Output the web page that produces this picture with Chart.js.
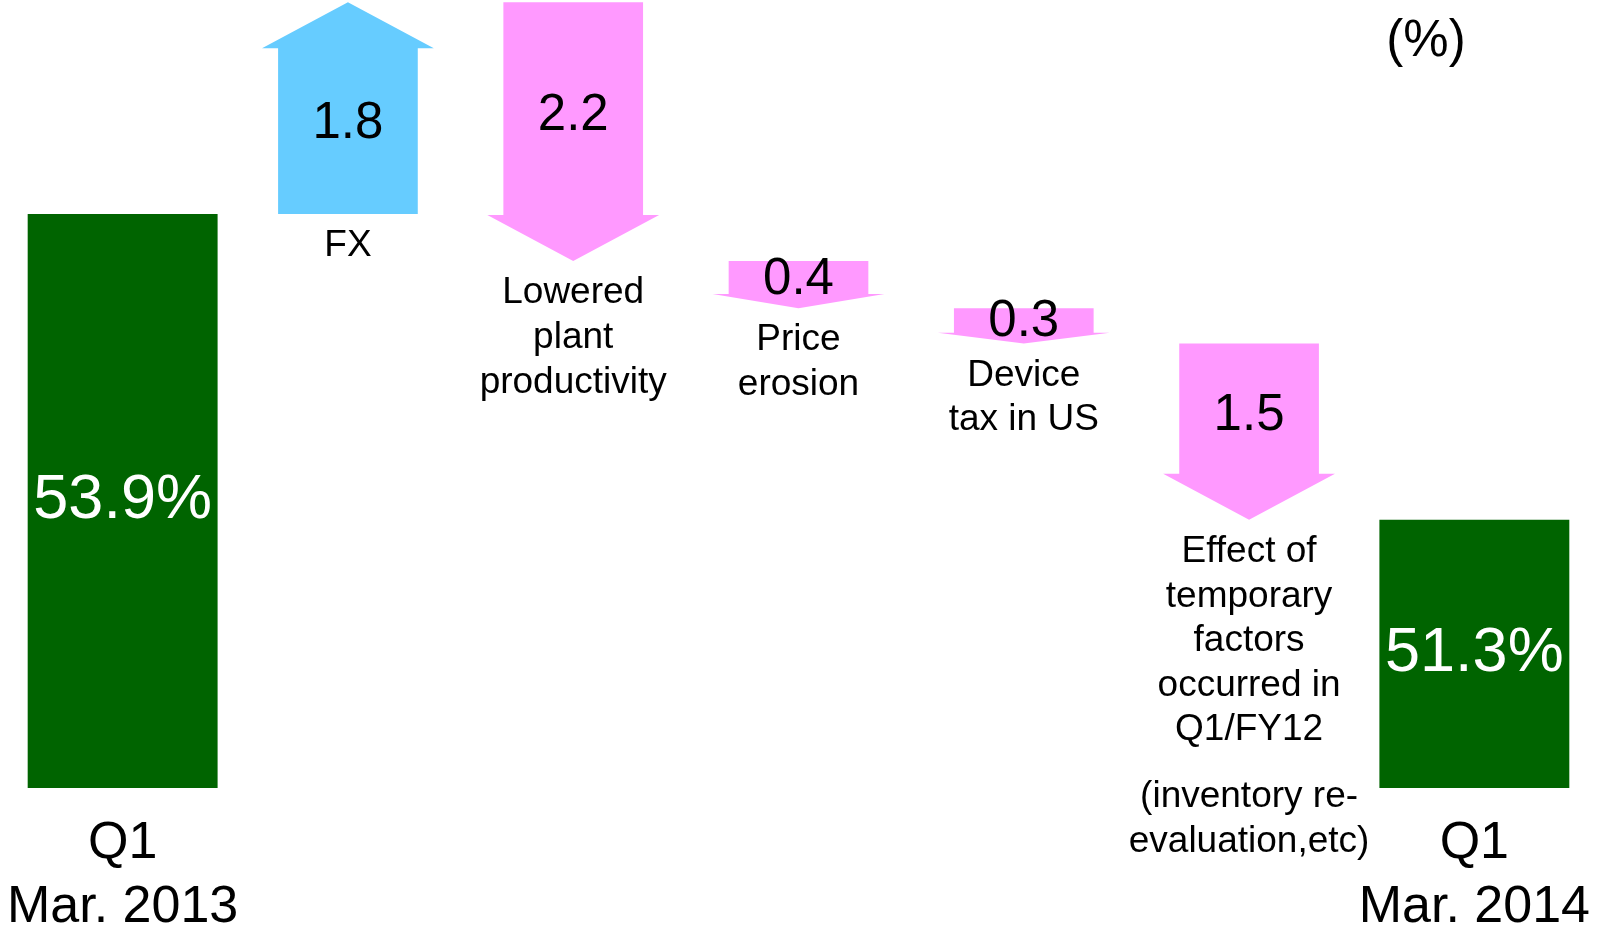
<!DOCTYPE html>
<html>
<head>
<meta charset="utf-8">
<script src="https://cdn.jsdelivr.net/npm/chart.js@4.4.1/dist/chart.umd.min.js"></script>
<style>
  html, body { margin: 0; padding: 0; background: #fff; }
  #wrap { width: 1616px; height: 929px; }
</style>
</head>
<body>
<div id="wrap"><canvas id="c" width="1616" height="929"></canvas></div>
<script>
// data
var categories = ['Q1 Mar. 2013', 'FX', 'Lowered plant productivity', 'Price erosion',
  'Device tax in US', 'Effect of temporary factors', 'Q1 Mar. 2014'];
var tickLabels = [['Q1', 'Mar. 2013'], '', '', '', '', '', ['Q1', 'Mar. 2014']];
var arrowLabels = [
  ['FX'],
  ['Lowered', 'plant', 'productivity'],
  ['Price', 'erosion'],
  ['Device', 'tax in US'],
  ['Effect of', 'temporary', 'factors', 'occurred in', 'Q1/FY12', '', '(inventory re-', 'evaluation,etc)']
];
var startValue = 53.9;
var deltas = [1.8, -2.2, -0.4, -0.3, -1.5];
var endValue = 51.3;
var unitLabel = '(%)';

var FONT = "'Liberation Sans', Arial, sans-serif";

// build the waterfall series
var totals = [startValue, null, null, null, null, null, endValue];
var steps = [null];
var run = startValue;
deltas.forEach(function(d) {
  var next = Math.round((run + d) * 10) / 10;
  steps.push([run, next]);
  run = next;
});
steps.push(null);

var waterfallPlugin = {
  id: 'waterfall',
  afterDraw: function(chart) {
    var ctx = chart.ctx;
    var xs = chart.scales.x, ys = chart.scales.y;
    ctx.save();
    ctx.textAlign = 'center';
    ctx.textBaseline = 'middle';

    // arrows for the changes
    chart.getDatasetMeta(1).data.forEach(function(bar, i) {
      if (!steps[i]) return;
      var up = steps[i][1] > steps[i][0];
      var x = bar.x, half = bar.width / 2, wing = bar.width * 1.23 / 2;
      var top = Math.min(bar.y, bar.base), bottom = Math.max(bar.y, bar.base);
      var len = bottom - top;
      var head = Math.min(46, len * 0.3);

      ctx.fillStyle = up ? '#66ccff' : '#ff99ff';
      ctx.beginPath();
      if (up) {
        ctx.moveTo(x - half, bottom);
        ctx.lineTo(x - half, top + head);
        ctx.lineTo(x - wing, top + head);
        ctx.lineTo(x, top);
        ctx.lineTo(x + wing, top + head);
        ctx.lineTo(x + half, top + head);
        ctx.lineTo(x + half, bottom);
      } else {
        ctx.moveTo(x - half, top);
        ctx.lineTo(x - half, bottom - head);
        ctx.lineTo(x - wing, bottom - head);
        ctx.lineTo(x, bottom);
        ctx.lineTo(x + wing, bottom - head);
        ctx.lineTo(x + half, bottom - head);
        ctx.lineTo(x + half, top);
      }
      ctx.closePath();
      ctx.fill();

      var mid = (top + bottom) / 2 + (up ? head : -head) * 0.35;
      ctx.fillStyle = '#000';
      ctx.font = '51px ' + FONT;
      ctx.fillText(Math.abs(deltas[i - 1]).toFixed(1), x, mid);

      // description under the arrow
      ctx.font = '37px ' + FONT;
      var ly = bottom + 32;
      arrowLabels[i - 1].forEach(function(line) {
        if (line === '') { ly += 22; return; }
        ctx.fillText(line, x, ly);
        ly += 44.6;
      });
    });

    // labels inside the green totals
    ctx.font = '63px ' + FONT;
    ctx.fillStyle = '#ffffff';
    totals.forEach(function(v, i) {
      if (v == null) return;
      var yTop = ys.getPixelForValue(v);
      ctx.fillText(v.toFixed(1) + '%', xs.getPixelForValue(i), (yTop + ys.bottom) / 2);
    });

    ctx.font = '51px ' + FONT;
    ctx.fillStyle = '#000';
    ctx.fillText(unitLabel, 1426, 42);
    ctx.restore();
  }
};

new Chart(document.getElementById('c'), {
  type: 'bar',
  data: {
    labels: categories,
    datasets: [{
      label: 'Gross margin',
      data: totals,
      backgroundColor: '#006400',
      barPercentage: 0.843,
      categoryPercentage: 1,
      grouped: false
    }, {
      label: 'Change',
      data: steps,
      backgroundColor: 'rgba(0,0,0,0)',
      barPercentage: 0.62,
      categoryPercentage: 1,
      grouped: false
    }]
  },
  options: {
    responsive: false,
    animation: false,
    devicePixelRatio: 1,
    layout: { padding: { left: 10, right: 29, top: 0, bottom: 0 } },
    plugins: { legend: { display: false }, tooltip: { enabled: false } },
    scales: {
      x: {
        grid: { display: false },
        border: { display: false },
        ticks: {
          color: '#000',
          padding: 16,
          maxRotation: 0,
          autoSkip: false,
          font: { size: 52, family: FONT, lineHeight: 1.23 },
          callback: function(v, i) { return tickLabels[i]; }
        },
        afterFit: function(scale) {
          scale.height = 141;
          scale.paddingLeft = 0;
          scale.paddingRight = 0;
        }
      },
      y: {
        display: false,
        min: 49.02,
        max: 55.72
      }
    }
  },
  plugins: [waterfallPlugin]
});
</script>
</body>
</html>
